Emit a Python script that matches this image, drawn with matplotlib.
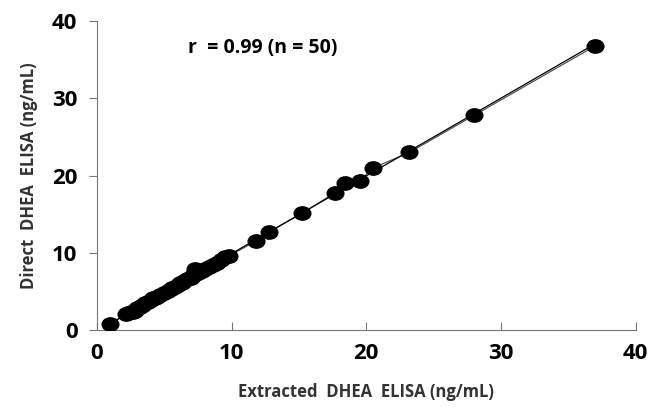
import matplotlib
matplotlib.use('Agg')
import matplotlib.pyplot as plt
import numpy as np
from matplotlib.path import Path

# extracted vs direct DHEA ELISA (ng/mL)
extracted=[1.0,2.2,2.3,2.5,2.7,2.8,3.0,3.2,3.3,3.4,3.6,3.8,4.0,4.2,4.3,4.5,4.7,5.0,5.3,5.5,
           5.6,5.8,6.0,6.2,6.3,6.5,6.7,7.0,7.1,7.2,7.3,7.5,7.8,8.0,8.3,8.6,8.9,9.2,9.5,9.8,
           11.8,12.8,15.2,17.7,18.4,19.5,20.5,23.2,28.0,37.0]
direct=[0.8,2.1,2.2,2.3,2.4,2.5,2.8,3.0,3.1,3.3,3.5,3.7,3.9,4.1,4.1,4.3,4.5,4.8,5.1,5.3,
        5.4,5.6,5.9,6.1,6.1,6.3,6.6,6.8,7.0,7.1,7.9,7.4,7.7,7.9,8.2,8.4,8.7,9.1,9.4,9.6,
        11.5,12.7,15.1,17.8,19.1,19.3,21.0,23.0,27.8,36.8]
label_text='r  = 0.99 (n = 50)'

plt.rcParams['font.family']=['Open Sans','DejaVu Sans']

x=np.array(extracted)
y=np.array(direct)

# ellipse marker (wider than tall)
circ=Path.unit_circle()
ell=Path(circ.vertices*np.array([1.25,1.0]),circ.codes)

fig=plt.figure(figsize=(6.5,4.07),dpi=100)
ax=fig.add_axes([0.149,0.189,0.829,0.759])

order=np.argsort(x)
ax.plot(x[order],y[order],color='#444444',lw=0.8,zorder=2)
m,b=np.polyfit(x,y,1)
xs=np.array([x.min(),x.max()])
ax.plot(xs,m*xs+b,color='black',lw=0.9,zorder=2)
ax.plot(x,y,linestyle='none',marker=ell,markersize=12,color='black',zorder=3)

ax.set_xlim(0,40)
ax.set_ylim(0,40)
ax.set_xticks([0,10,20,30,40])
ax.set_yticks([0,10,20,30,40])
for s in ['top','right']:
    ax.spines[s].set_visible(False)
for s in ['left','bottom']:
    ax.spines[s].set_color('#777777')
ax.tick_params(axis='x',direction='in',length=6,color='#777777',labelsize=16,pad=9)
ax.tick_params(axis='y',direction='out',length=6,color='#777777',labelsize=16,pad=8)
for t in ax.get_xticklabels()+ax.get_yticklabels():
    t.set_fontweight('bold')

ax.set_xlabel('Extracted  DHEA  ELISA (ng/mL)',fontsize=12,fontweight='bold',color='#333333',labelpad=14)
ax.set_ylabel('Direct  DHEA  ELISA (ng/mL)',fontsize=12,fontweight='bold',color='#333333',labelpad=10)
ax.text(6.8,36.5,label_text,fontsize=14,fontweight='bold',va='center')

fig.savefig('out.png',dpi=100)
